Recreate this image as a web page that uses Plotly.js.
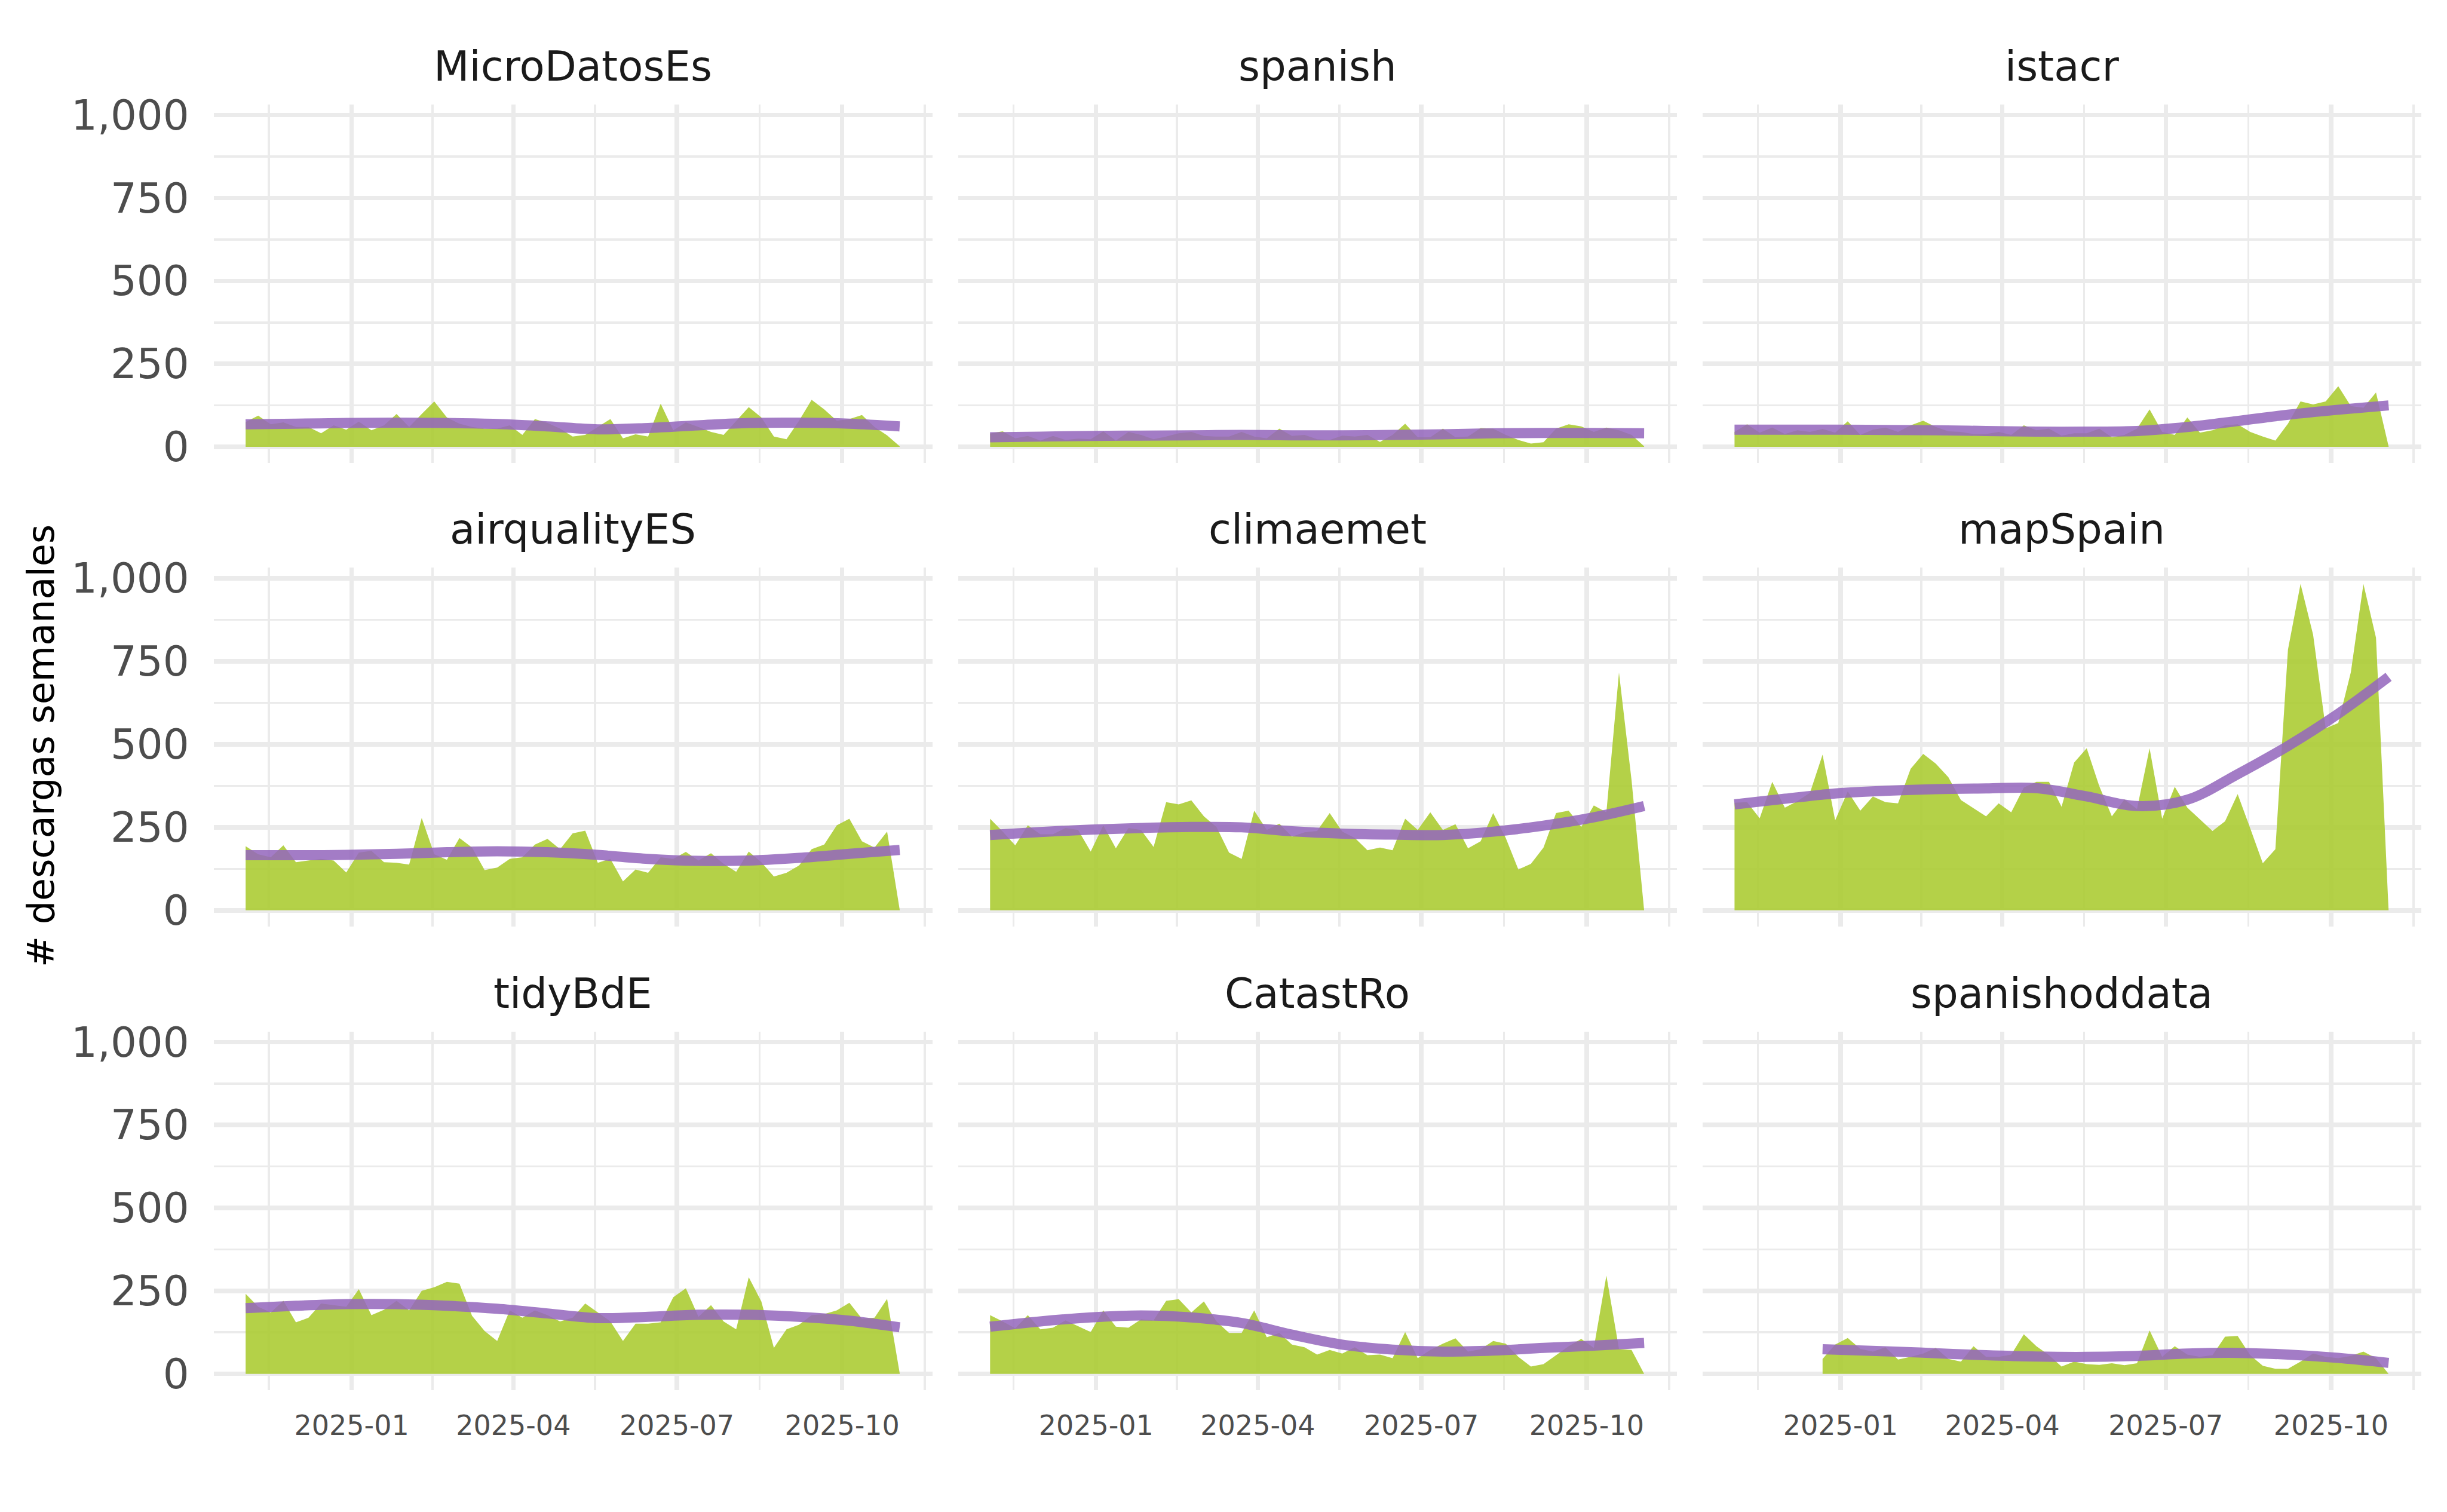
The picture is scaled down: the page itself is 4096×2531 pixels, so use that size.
<!DOCTYPE html>
<html><head><meta charset="utf-8">
<script src="https://cdn.plot.ly/plotly-3.0.1.min.js"></script>
<style>html,body{margin:0;padding:0;background:#fff;} #chart{width:4096px;height:2531px;}</style>
</head><body><div id="chart"></div>
<script>
// Weekly dates (Sundays)
const WEEKS = ['2024-11-03','2024-11-10','2024-11-17','2024-11-24','2024-12-01','2024-12-08','2024-12-15','2024-12-22','2024-12-29',
  '2025-01-05','2025-01-12','2025-01-19','2025-01-26','2025-02-02','2025-02-09','2025-02-16','2025-02-23',
  '2025-03-02','2025-03-09','2025-03-16','2025-03-23','2025-03-30','2025-04-06','2025-04-13','2025-04-20','2025-04-27',
  '2025-05-04','2025-05-11','2025-05-18','2025-05-25','2025-06-01','2025-06-08','2025-06-15','2025-06-22','2025-06-29',
  '2025-07-06','2025-07-13','2025-07-20','2025-07-27','2025-08-03','2025-08-10','2025-08-17','2025-08-24','2025-08-31',
  '2025-09-07','2025-09-14','2025-09-21','2025-09-28','2025-10-05','2025-10-12','2025-10-19','2025-10-26','2025-11-02'];

const PACKAGES = ['MicroDatosEs','spanish','istacr','airqualityES','climaemet','mapSpain','tidyBdE','CatastRo','spanishoddata'];

// Weekly downloads
const microdatoses = [75,94,68,74,60,60,41,65,52,76,50,65,99,60,99,137,89,70,60,55,55,65,36,84,72,55,31,36,60,84,26,38,31,130,50,74,60,45,36,79,120,89,31,23,79,142,113,79,84,96,60,35,2];
const spanish = [40,47,26,33,19,33,21,25,23,47,19,45,36,23,31,41,45,33,31,31,45,31,26,55,33,36,23,21,34,31,36,15,36,70,29,29,55,29,31,57,55,36,21,10,14,55,68,62,45,58,50,36,2];
const istacr = [45,68,43,58,39,50,45,54,43,77,36,52,58,45,65,79,60,47,45,39,39,45,36,65,50,55,34,41,41,55,29,36,55,113,45,36,89,43,50,65,68,45,31,19,70,137,128,137,183,123,118,164,2];
const airqualityes = [193,169,160,196,145,150,155,150,114,174,179,145,143,138,278,169,152,218,189,121,129,155,160,198,215,184,232,240,143,155,87,123,113,160,155,176,150,172,140,116,177,145,102,113,135,184,198,256,276,208,189,237,2];
const climaemet = [276,237,196,256,229,229,248,242,177,256,187,248,242,191,326,319,331,283,251,174,155,300,242,261,222,235,239,293,237,218,181,189,181,276,242,295,242,259,187,208,293,218,123,140,189,293,300,251,316,295,716,392,0];
const mapspain = [324,326,277,387,309,329,354,469,271,358,300,343,326,322,426,471,442,401,332,307,283,322,295,370,387,387,312,445,488,374,283,334,305,488,276,372,309,274,239,268,350,247,142,184,785,983,830,548,564,717,983,821,0];
const tidybde = [241,202,185,220,155,169,212,207,202,255,177,193,220,191,250,261,277,272,175,129,99,191,169,191,177,158,169,212,185,158,99,151,151,155,231,258,172,207,158,134,291,218,78,134,148,177,180,191,214,166,169,226,2];
const catastro = [177,158,137,177,134,139,161,144,126,191,142,139,164,161,220,225,185,218,158,123,123,191,110,123,88,80,58,72,61,80,56,58,47,126,47,72,91,107,67,74,99,91,51,22,29,56,83,105,78,296,75,72,0];
const spanishoddata = [null,null,null,null,null,null,null,45,88,108,75,67,80,43,51,61,78,45,37,83,51,51,58,119,83,56,22,37,29,27,32,26,32,131,51,83,58,51,56,112,114,56,24,15,15,37,61,51,47,54,67,47,0];

// Smoothed trend
const SMOOTH_DATES = ['2024-11-03','2024-12-01','2024-12-29','2025-01-26','2025-02-23','2025-03-23','2025-04-20','2025-05-18','2025-06-15','2025-07-13','2025-08-10','2025-09-07','2025-10-05','2025-11-02'];
const SMOOTH_DATES_SOD = ['2024-12-22','2025-01-26','2025-02-23','2025-03-23','2025-04-20','2025-05-18','2025-06-15','2025-07-13','2025-08-10','2025-09-07','2025-10-05','2025-11-02'];
const smooth_microdatoses = [68,70,72,73,72,69,62,53,57,65,72,73,70,62];
const smooth_spanish = [29,31,33,34,35,36,35,35,36,38,41,42,42,41];
const smooth_istacr = [52,52,52,51,50,48,46,46,48,60,78,97,112,125];
const smooth_airqualityes = [166,166,167,170,175,178,175,167,155,149,150,158,170,182];
const smooth_climaemet = [227,236,243,248,251,250,238,231,228,227,237,255,280,314];
const smooth_mapspain = [319,336,352,360,365,367,368,343,314,333,410,495,592,703];
const smooth_tidybde = [198,205,210,210,205,196,182,168,172,178,178,172,160,140];
const smooth_catastro = [142,158,170,176,170,153,118,88,73,67,70,78,85,93];
const smooth_spanishoddata = [74,68,62,56,52,51,54,61,63,58,48,33];

const SERIES = [microdatoses,spanish,istacr,airqualityes,climaemet,mapspain,tidybde,catastro,spanishoddata];
const SMOOTHS = [smooth_microdatoses,smooth_spanish,smooth_istacr,smooth_airqualityes,smooth_climaemet,smooth_mapspain,smooth_tidybde,smooth_catastro,smooth_spanishoddata];

const X_TICKS = ['2025-01-01','2025-04-01','2025-07-01','2025-10-01'];
const X_TICKTEXT = ['2025-01','2025-04','2025-07','2025-10'];
const X_MINOR = ['2024-11-16','2025-02-15','2025-05-16 12:00','2025-08-16','2025-11-16'];
const Y_TICKS = [0,250,500,750,1000];
const Y_TICKTEXT = ['0','250','500','750','1,000'];
const Y_MINOR = [125,375,625,875];

const XDOM = [[0.08731,0.38103],[0.39154,0.68526],[0.69577,0.98949]];
const YDOM = [[0.69367,0.93097],[0.38716,0.62460],[0.08065,0.31780]];

const FONT = 'DejaVu Sans';
const GRID = '#EBEBEB';
const traces = [];
const layout = {
  width: 4096, height: 2531,
  margin: {l:0, r:0, t:0, b:0},
  paper_bgcolor: '#ffffff', plot_bgcolor: '#ffffff',
  showlegend: false,
  font: {family: FONT},
  annotations: []
};

for (let k = 0; k < 9; k++) {
  const s = k === 0 ? '' : String(k + 1);
  const col = k % 3, row = Math.floor(k / 3);
  traces.push({
    x: WEEKS, y: SERIES[k], type: 'scatter', mode: 'lines',
    line: {width: 0, color: 'rgba(172,204,52,0.9)'},
    fill: 'tozeroy', fillcolor: 'rgba(172,204,52,0.9)',
    xaxis: 'x' + s, yaxis: 'y' + s, hoverinfo: 'skip'
  });
  traces.push({
    x: k === 8 ? SMOOTH_DATES_SOD : SMOOTH_DATES, y: SMOOTHS[k], type: 'scatter', mode: 'lines',
    line: {width: 17, color: 'rgba(148,103,189,0.86)', shape: 'spline', smoothing: 1},
    xaxis: 'x' + s, yaxis: 'y' + s, hoverinfo: 'skip'
  });
  layout['xaxis' + s] = {
    domain: XDOM[col], anchor: 'y' + s, type: 'date',
    range: ['2024-10-16 04:48', '2025-11-20 04:48'],
    tickmode: 'array', tickvals: X_TICKS, ticktext: X_TICKTEXT,
    showticklabels: row === 2, ticks: '', ticklabelstandoff: 28,
    tickfont: {family: FONT, size: 46, color: '#4D4D4D'},
    showgrid: true, gridcolor: GRID, gridwidth: 7.5,
    minor: {tickmode: 'array', tickvals: X_MINOR, showgrid: true, gridcolor: GRID, gridwidth: 3.7, ticks: ''},
    zeroline: false, showline: false, fixedrange: true
  };
  layout['yaxis' + s] = {
    domain: YDOM[row], anchor: 'x' + s,
    range: [-49, 1032],
    tickmode: 'array', tickvals: Y_TICKS, ticktext: Y_TICKTEXT,
    showticklabels: col === 0, ticks: '', ticklabelstandoff: 40,
    tickfont: {family: FONT, size: 69, color: '#4D4D4D'},
    showgrid: true, gridcolor: GRID, gridwidth: 7.5,
    minor: {tickmode: 'array', tickvals: Y_MINOR, showgrid: true, gridcolor: GRID, gridwidth: 3.7, ticks: ''},
    zeroline: false, showline: false, fixedrange: true
  };
  layout.annotations.push({
    text: PACKAGES[k], showarrow: false,
    xref: 'x' + s + ' domain', yref: 'y' + s + ' domain', x: 0.5, y: 1,
    xanchor: 'center', yanchor: 'middle', yshift: 64,
    font: {family: FONT, size: 69, color: '#1A1A1A'}
  });
}
layout.annotations.push({
  text: '# descargas semanales', showarrow: false, textangle: -90,
  xref: 'paper', yref: 'paper', x: 0.01669, y: 0.5067,
  xanchor: 'center', yanchor: 'middle',
  font: {family: FONT, size: 62, color: '#000000'}
});

Plotly.newPlot('chart', traces, layout, {staticPlot: true, displayModeBar: false});
</script>
</body></html>
